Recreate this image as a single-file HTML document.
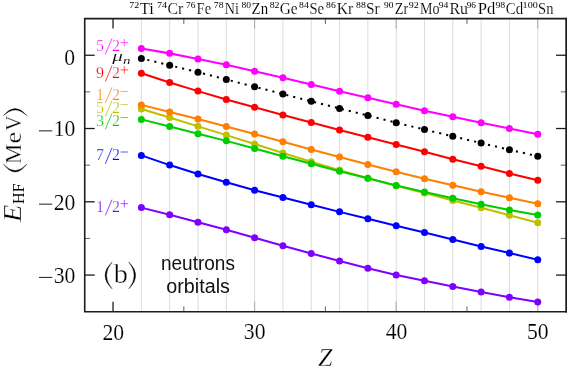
<!DOCTYPE html><html><head><meta charset="utf-8"><style>html,body{margin:0;padding:0;background:#fff}svg{display:block;filter:opacity(1)}</style></head><body>
<svg width="567" height="369" viewBox="0 0 567 369">
<rect width="567" height="369" fill="#fff"/>
<line x1="141.35" y1="18.61" x2="141.35" y2="311.71" stroke="#dcdcdc" stroke-width="1"/>
<line x1="169.66" y1="18.61" x2="169.66" y2="311.71" stroke="#dcdcdc" stroke-width="1"/>
<line x1="197.98" y1="18.61" x2="197.98" y2="311.71" stroke="#dcdcdc" stroke-width="1"/>
<line x1="226.29" y1="18.61" x2="226.29" y2="311.71" stroke="#dcdcdc" stroke-width="1"/>
<line x1="254.61" y1="18.61" x2="254.61" y2="311.71" stroke="#dcdcdc" stroke-width="1"/>
<line x1="282.92" y1="18.61" x2="282.92" y2="311.71" stroke="#dcdcdc" stroke-width="1"/>
<line x1="311.23" y1="18.61" x2="311.23" y2="311.71" stroke="#dcdcdc" stroke-width="1"/>
<line x1="339.55" y1="18.61" x2="339.55" y2="311.71" stroke="#dcdcdc" stroke-width="1"/>
<line x1="367.86" y1="18.61" x2="367.86" y2="311.71" stroke="#dcdcdc" stroke-width="1"/>
<line x1="396.18" y1="18.61" x2="396.18" y2="311.71" stroke="#dcdcdc" stroke-width="1"/>
<line x1="424.49" y1="18.61" x2="424.49" y2="311.71" stroke="#dcdcdc" stroke-width="1"/>
<line x1="452.80" y1="18.61" x2="452.80" y2="311.71" stroke="#dcdcdc" stroke-width="1"/>
<line x1="481.12" y1="18.61" x2="481.12" y2="311.71" stroke="#dcdcdc" stroke-width="1"/>
<line x1="509.43" y1="18.61" x2="509.43" y2="311.71" stroke="#dcdcdc" stroke-width="1"/>
<line x1="537.75" y1="18.61" x2="537.75" y2="311.71" stroke="#dcdcdc" stroke-width="1"/>
<line x1="113.04" y1="311.71" x2="113.04" y2="301.71" stroke="#1c1c1c" stroke-width="1.3"/>
<line x1="113.04" y1="18.61" x2="113.04" y2="28.61" stroke="#1c1c1c" stroke-width="1.3"/>
<line x1="254.61" y1="311.71" x2="254.61" y2="301.71" stroke="#a8a8a8" stroke-width="1.0"/>
<line x1="254.61" y1="18.61" x2="254.61" y2="28.61" stroke="#a8a8a8" stroke-width="1.0"/>
<line x1="396.18" y1="311.71" x2="396.18" y2="301.71" stroke="#a8a8a8" stroke-width="1.0"/>
<line x1="396.18" y1="18.61" x2="396.18" y2="28.61" stroke="#a8a8a8" stroke-width="1.0"/>
<line x1="537.75" y1="311.71" x2="537.75" y2="301.71" stroke="#a8a8a8" stroke-width="1.0"/>
<line x1="537.75" y1="18.61" x2="537.75" y2="28.61" stroke="#a8a8a8" stroke-width="1.0"/>
<line x1="183.82" y1="311.71" x2="183.82" y2="306.41" stroke="#444" stroke-width="0.85"/>
<line x1="183.82" y1="18.61" x2="183.82" y2="23.91" stroke="#444" stroke-width="0.85"/>
<line x1="325.39" y1="311.71" x2="325.39" y2="306.41" stroke="#444" stroke-width="0.85"/>
<line x1="325.39" y1="18.61" x2="325.39" y2="23.91" stroke="#444" stroke-width="0.85"/>
<line x1="466.96" y1="311.71" x2="466.96" y2="306.41" stroke="#444" stroke-width="0.85"/>
<line x1="466.96" y1="18.61" x2="466.96" y2="23.91" stroke="#444" stroke-width="0.85"/>
<line x1="84.72" y1="55.25" x2="94.72" y2="55.25" stroke="#1c1c1c" stroke-width="1.3"/>
<line x1="566.06" y1="55.25" x2="556.06" y2="55.25" stroke="#1c1c1c" stroke-width="1.3"/>
<line x1="84.72" y1="128.52" x2="94.72" y2="128.52" stroke="#1c1c1c" stroke-width="1.3"/>
<line x1="566.06" y1="128.52" x2="556.06" y2="128.52" stroke="#1c1c1c" stroke-width="1.3"/>
<line x1="84.72" y1="201.80" x2="94.72" y2="201.80" stroke="#1c1c1c" stroke-width="1.3"/>
<line x1="566.06" y1="201.80" x2="556.06" y2="201.80" stroke="#1c1c1c" stroke-width="1.3"/>
<line x1="84.72" y1="275.07" x2="94.72" y2="275.07" stroke="#1c1c1c" stroke-width="1.3"/>
<line x1="566.06" y1="275.07" x2="556.06" y2="275.07" stroke="#1c1c1c" stroke-width="1.3"/>
<line x1="84.72" y1="91.89" x2="90.02" y2="91.89" stroke="#444" stroke-width="0.85"/>
<line x1="566.06" y1="91.89" x2="560.76" y2="91.89" stroke="#444" stroke-width="0.85"/>
<line x1="84.72" y1="165.16" x2="90.02" y2="165.16" stroke="#444" stroke-width="0.85"/>
<line x1="566.06" y1="165.16" x2="560.76" y2="165.16" stroke="#444" stroke-width="0.85"/>
<line x1="84.72" y1="238.44" x2="90.02" y2="238.44" stroke="#444" stroke-width="0.85"/>
<line x1="566.06" y1="238.44" x2="560.76" y2="238.44" stroke="#444" stroke-width="0.85"/>
<polyline points="141.35,108.98 169.66,117.58 197.98,126.37 226.29,135.11 254.61,144.06 282.92,152.99 311.23,161.85 339.55,170.12 367.86,178.19 396.18,185.80 424.49,193.02 452.80,200.52 481.12,207.84 509.43,215.22 537.75,222.75" fill="none" stroke="#bfbf00" stroke-width="2.05" stroke-linejoin="round"/>
<circle cx="141.35" cy="108.98" r="3.5" fill="#bfbf00"/>
<circle cx="169.66" cy="117.58" r="3.5" fill="#bfbf00"/>
<circle cx="197.98" cy="126.37" r="3.5" fill="#bfbf00"/>
<circle cx="226.29" cy="135.11" r="3.5" fill="#bfbf00"/>
<circle cx="254.61" cy="144.06" r="3.5" fill="#bfbf00"/>
<circle cx="282.92" cy="152.99" r="3.5" fill="#bfbf00"/>
<circle cx="311.23" cy="161.85" r="3.5" fill="#bfbf00"/>
<circle cx="339.55" cy="170.12" r="3.5" fill="#bfbf00"/>
<circle cx="367.86" cy="178.19" r="3.5" fill="#bfbf00"/>
<circle cx="396.18" cy="185.80" r="3.5" fill="#bfbf00"/>
<circle cx="424.49" cy="193.02" r="3.5" fill="#bfbf00"/>
<circle cx="452.80" cy="200.52" r="3.5" fill="#bfbf00"/>
<circle cx="481.12" cy="207.84" r="3.5" fill="#bfbf00"/>
<circle cx="509.43" cy="215.22" r="3.5" fill="#bfbf00"/>
<circle cx="537.75" cy="222.75" r="3.5" fill="#bfbf00"/>
<polyline points="141.35,207.62 169.66,214.73 197.98,222.15 226.29,229.67 254.61,237.76 282.92,245.74 311.23,253.47 339.55,261.01 367.86,268.31 396.18,274.93 424.49,280.83 452.80,286.56 481.12,292.09 509.43,297.22 537.75,302.01" fill="none" stroke="#8000ff" stroke-width="2.05" stroke-linejoin="round"/>
<circle cx="141.35" cy="207.62" r="3.5" fill="#8000ff"/>
<circle cx="169.66" cy="214.73" r="3.5" fill="#8000ff"/>
<circle cx="197.98" cy="222.15" r="3.5" fill="#8000ff"/>
<circle cx="226.29" cy="229.67" r="3.5" fill="#8000ff"/>
<circle cx="254.61" cy="237.76" r="3.5" fill="#8000ff"/>
<circle cx="282.92" cy="245.74" r="3.5" fill="#8000ff"/>
<circle cx="311.23" cy="253.47" r="3.5" fill="#8000ff"/>
<circle cx="339.55" cy="261.01" r="3.5" fill="#8000ff"/>
<circle cx="367.86" cy="268.31" r="3.5" fill="#8000ff"/>
<circle cx="396.18" cy="274.93" r="3.5" fill="#8000ff"/>
<circle cx="424.49" cy="280.83" r="3.5" fill="#8000ff"/>
<circle cx="452.80" cy="286.56" r="3.5" fill="#8000ff"/>
<circle cx="481.12" cy="292.09" r="3.5" fill="#8000ff"/>
<circle cx="509.43" cy="297.22" r="3.5" fill="#8000ff"/>
<circle cx="537.75" cy="302.01" r="3.5" fill="#8000ff"/>
<polyline points="141.35,155.39 169.66,165.10 197.98,174.01 226.29,182.31 254.61,190.21 282.92,197.44 311.23,204.84 339.55,211.87 367.86,218.80 396.18,225.71 424.49,232.56 452.80,239.55 481.12,246.38 509.43,253.12 537.75,259.80" fill="none" stroke="#0000ff" stroke-width="2.05" stroke-linejoin="round"/>
<circle cx="141.35" cy="155.39" r="3.5" fill="#0000ff"/>
<circle cx="169.66" cy="165.10" r="3.5" fill="#0000ff"/>
<circle cx="197.98" cy="174.01" r="3.5" fill="#0000ff"/>
<circle cx="226.29" cy="182.31" r="3.5" fill="#0000ff"/>
<circle cx="254.61" cy="190.21" r="3.5" fill="#0000ff"/>
<circle cx="282.92" cy="197.44" r="3.5" fill="#0000ff"/>
<circle cx="311.23" cy="204.84" r="3.5" fill="#0000ff"/>
<circle cx="339.55" cy="211.87" r="3.5" fill="#0000ff"/>
<circle cx="367.86" cy="218.80" r="3.5" fill="#0000ff"/>
<circle cx="396.18" cy="225.71" r="3.5" fill="#0000ff"/>
<circle cx="424.49" cy="232.56" r="3.5" fill="#0000ff"/>
<circle cx="452.80" cy="239.55" r="3.5" fill="#0000ff"/>
<circle cx="481.12" cy="246.38" r="3.5" fill="#0000ff"/>
<circle cx="509.43" cy="253.12" r="3.5" fill="#0000ff"/>
<circle cx="537.75" cy="259.80" r="3.5" fill="#0000ff"/>
<polyline points="141.35,119.38 169.66,126.48 197.98,133.69 226.29,140.87 254.61,148.60 282.92,156.15 311.23,163.76 339.55,171.17 367.86,178.32 396.18,185.41 424.49,191.94 452.80,198.31 481.12,204.24 509.43,209.89 537.75,215.09" fill="none" stroke="#00cc00" stroke-width="2.05" stroke-linejoin="round"/>
<circle cx="141.35" cy="119.38" r="3.5" fill="#00cc00"/>
<circle cx="169.66" cy="126.48" r="3.5" fill="#00cc00"/>
<circle cx="197.98" cy="133.69" r="3.5" fill="#00cc00"/>
<circle cx="226.29" cy="140.87" r="3.5" fill="#00cc00"/>
<circle cx="254.61" cy="148.60" r="3.5" fill="#00cc00"/>
<circle cx="282.92" cy="156.15" r="3.5" fill="#00cc00"/>
<circle cx="311.23" cy="163.76" r="3.5" fill="#00cc00"/>
<circle cx="339.55" cy="171.17" r="3.5" fill="#00cc00"/>
<circle cx="367.86" cy="178.32" r="3.5" fill="#00cc00"/>
<circle cx="396.18" cy="185.41" r="3.5" fill="#00cc00"/>
<circle cx="424.49" cy="191.94" r="3.5" fill="#00cc00"/>
<circle cx="452.80" cy="198.31" r="3.5" fill="#00cc00"/>
<circle cx="481.12" cy="204.24" r="3.5" fill="#00cc00"/>
<circle cx="509.43" cy="209.89" r="3.5" fill="#00cc00"/>
<circle cx="537.75" cy="215.09" r="3.5" fill="#00cc00"/>
<polyline points="141.35,104.88 169.66,111.89 197.98,119.10 226.29,126.39 254.61,134.06 282.92,141.81 311.23,149.45 339.55,157.09 367.86,164.50 396.18,171.81 424.49,178.79 452.80,185.28 481.12,191.68 509.43,197.82 537.75,203.66" fill="none" stroke="#ff8000" stroke-width="2.05" stroke-linejoin="round"/>
<circle cx="141.35" cy="104.88" r="3.5" fill="#ff8000"/>
<circle cx="169.66" cy="111.89" r="3.5" fill="#ff8000"/>
<circle cx="197.98" cy="119.10" r="3.5" fill="#ff8000"/>
<circle cx="226.29" cy="126.39" r="3.5" fill="#ff8000"/>
<circle cx="254.61" cy="134.06" r="3.5" fill="#ff8000"/>
<circle cx="282.92" cy="141.81" r="3.5" fill="#ff8000"/>
<circle cx="311.23" cy="149.45" r="3.5" fill="#ff8000"/>
<circle cx="339.55" cy="157.09" r="3.5" fill="#ff8000"/>
<circle cx="367.86" cy="164.50" r="3.5" fill="#ff8000"/>
<circle cx="396.18" cy="171.81" r="3.5" fill="#ff8000"/>
<circle cx="424.49" cy="178.79" r="3.5" fill="#ff8000"/>
<circle cx="452.80" cy="185.28" r="3.5" fill="#ff8000"/>
<circle cx="481.12" cy="191.68" r="3.5" fill="#ff8000"/>
<circle cx="509.43" cy="197.82" r="3.5" fill="#ff8000"/>
<circle cx="537.75" cy="203.66" r="3.5" fill="#ff8000"/>
<polyline points="141.35,73.30 169.66,82.49 197.98,91.12 226.29,99.44 254.61,107.25 282.92,114.90 311.23,122.61 339.55,130.07 367.86,137.24 396.18,144.50 424.49,151.83 452.80,159.15 481.12,166.29 509.43,173.39 537.75,180.32" fill="none" stroke="#ff0000" stroke-width="2.05" stroke-linejoin="round"/>
<circle cx="141.35" cy="73.30" r="3.5" fill="#ff0000"/>
<circle cx="169.66" cy="82.49" r="3.5" fill="#ff0000"/>
<circle cx="197.98" cy="91.12" r="3.5" fill="#ff0000"/>
<circle cx="226.29" cy="99.44" r="3.5" fill="#ff0000"/>
<circle cx="254.61" cy="107.25" r="3.5" fill="#ff0000"/>
<circle cx="282.92" cy="114.90" r="3.5" fill="#ff0000"/>
<circle cx="311.23" cy="122.61" r="3.5" fill="#ff0000"/>
<circle cx="339.55" cy="130.07" r="3.5" fill="#ff0000"/>
<circle cx="367.86" cy="137.24" r="3.5" fill="#ff0000"/>
<circle cx="396.18" cy="144.50" r="3.5" fill="#ff0000"/>
<circle cx="424.49" cy="151.83" r="3.5" fill="#ff0000"/>
<circle cx="452.80" cy="159.15" r="3.5" fill="#ff0000"/>
<circle cx="481.12" cy="166.29" r="3.5" fill="#ff0000"/>
<circle cx="509.43" cy="173.39" r="3.5" fill="#ff0000"/>
<circle cx="537.75" cy="180.32" r="3.5" fill="#ff0000"/>
<polyline points="141.35,58.48 169.66,65.24 197.98,72.30 226.29,79.48 254.61,86.71 282.92,94.05 311.23,101.23 339.55,108.43 367.86,115.60 396.18,122.66 424.49,129.58 452.80,136.28 481.12,143.09 509.43,149.75 537.75,156.23" fill="none" stroke="#000000" stroke-width="2" stroke-dasharray="2.1 5.065" stroke-dashoffset="1.05"/>
<circle cx="141.35" cy="58.48" r="3.5" fill="#000000"/>
<circle cx="169.66" cy="65.24" r="3.5" fill="#000000"/>
<circle cx="197.98" cy="72.30" r="3.5" fill="#000000"/>
<circle cx="226.29" cy="79.48" r="3.5" fill="#000000"/>
<circle cx="254.61" cy="86.71" r="3.5" fill="#000000"/>
<circle cx="282.92" cy="94.05" r="3.5" fill="#000000"/>
<circle cx="311.23" cy="101.23" r="3.5" fill="#000000"/>
<circle cx="339.55" cy="108.43" r="3.5" fill="#000000"/>
<circle cx="367.86" cy="115.60" r="3.5" fill="#000000"/>
<circle cx="396.18" cy="122.66" r="3.5" fill="#000000"/>
<circle cx="424.49" cy="129.58" r="3.5" fill="#000000"/>
<circle cx="452.80" cy="136.28" r="3.5" fill="#000000"/>
<circle cx="481.12" cy="143.09" r="3.5" fill="#000000"/>
<circle cx="509.43" cy="149.75" r="3.5" fill="#000000"/>
<circle cx="537.75" cy="156.23" r="3.5" fill="#000000"/>
<polyline points="141.35,48.43 169.66,53.37 197.98,58.94 226.29,64.80 254.61,71.33 282.92,77.81 311.23,84.44 339.55,91.14 367.86,97.80 396.18,104.35 424.49,110.72 452.80,116.75 481.12,122.75 509.43,128.60 537.75,134.28" fill="none" stroke="#ff00ff" stroke-width="2.05" stroke-linejoin="round"/>
<circle cx="141.35" cy="48.43" r="3.5" fill="#ff00ff"/>
<circle cx="169.66" cy="53.37" r="3.5" fill="#ff00ff"/>
<circle cx="197.98" cy="58.94" r="3.5" fill="#ff00ff"/>
<circle cx="226.29" cy="64.80" r="3.5" fill="#ff00ff"/>
<circle cx="254.61" cy="71.33" r="3.5" fill="#ff00ff"/>
<circle cx="282.92" cy="77.81" r="3.5" fill="#ff00ff"/>
<circle cx="311.23" cy="84.44" r="3.5" fill="#ff00ff"/>
<circle cx="339.55" cy="91.14" r="3.5" fill="#ff00ff"/>
<circle cx="367.86" cy="97.80" r="3.5" fill="#ff00ff"/>
<circle cx="396.18" cy="104.35" r="3.5" fill="#ff00ff"/>
<circle cx="424.49" cy="110.72" r="3.5" fill="#ff00ff"/>
<circle cx="452.80" cy="116.75" r="3.5" fill="#ff00ff"/>
<circle cx="481.12" cy="122.75" r="3.5" fill="#ff00ff"/>
<circle cx="509.43" cy="128.60" r="3.5" fill="#ff00ff"/>
<circle cx="537.75" cy="134.28" r="3.5" fill="#ff00ff"/>
<path d="M566.86,18.61 H84.72 V311.71 H566.86" fill="none" stroke="#1c1c1c" stroke-width="1.6" stroke-linejoin="miter"/>
<rect x="565.3" y="17.81" width="1.7" height="294.70" fill="#1c1c1c"/>
<text transform="translate(102.42,339.54) scale(0.9363,1)" font-size="23.13" font-family='"Liberation Serif"' stroke="#fff" stroke-width="0.155">20</text>
<text transform="translate(243.86,339.30) scale(0.9363,1)" font-size="23.13" font-family='"Liberation Serif"' stroke="#fff" stroke-width="0.155">30</text>
<text transform="translate(385.77,339.30) scale(0.9363,1)" font-size="23.13" font-family='"Liberation Serif"' stroke="#fff" stroke-width="0.155">40</text>
<text transform="translate(527.00,339.30) scale(0.9363,1)" font-size="23.13" font-family='"Liberation Serif"' stroke="#fff" stroke-width="0.155">50</text>
<text transform="translate(64.35,65.25) scale(0.9363,1)" font-size="23.13" font-family='"Liberation Serif"' stroke="#fff" stroke-width="0.155">0</text>
<text transform="translate(53.72,136.47) scale(0.9363,1)" font-size="23.13" font-family='"Liberation Serif"' stroke="#fff" stroke-width="0.155">10</text>
<line x1="39.0" y1="130.87" x2="52.2" y2="130.87" stroke="#111" stroke-width="0.95"/>
<text transform="translate(53.72,209.75) scale(0.9363,1)" font-size="23.13" font-family='"Liberation Serif"' stroke="#fff" stroke-width="0.155">20</text>
<line x1="39.0" y1="204.15" x2="52.2" y2="204.15" stroke="#111" stroke-width="0.95"/>
<text transform="translate(53.72,283.02) scale(0.9363,1)" font-size="23.13" font-family='"Liberation Serif"' stroke="#fff" stroke-width="0.155">30</text>
<line x1="39.0" y1="277.42" x2="52.2" y2="277.42" stroke="#111" stroke-width="0.95"/>
<text transform="translate(318.00,366.00) scale(1.0298,1)" font-size="25.45" font-family='"Liberation Serif"' font-style="italic" stroke="#fff" stroke-width="0.345">Z</text>
<text transform="translate(21.10,222.34) rotate(-90) scale(1.1582,1)" font-size="25.14" font-family='"Liberation Serif"' font-style="italic" stroke="#fff" stroke-width="0.324">E</text>
<text transform="translate(24.40,203.95) rotate(-90) scale(0.9255,1)" font-size="17.37" font-family='"Liberation Serif"'>HF</text>
<text transform="translate(21.30,163.96) rotate(-90) scale(0.9594,1)" font-size="23.77" font-family='"Liberation Serif"' stroke="#fff" stroke-width="0.357">M</text>
<text transform="translate(21.30,130.70) rotate(-90) scale(0.8838,1)" font-size="23.77" font-family='"Liberation Serif"' stroke="#fff" stroke-width="0.372">V</text>
<text transform="translate(21.30,143.42) rotate(-90) scale(1.0985,1)" font-size="23.77" font-family='"Liberation Serif"' stroke="#fff" stroke-width="0.334">e</text>
<path d="M3.40,164.10 Q15.15,179.90 26.90,164.10 Q15.15,177.10 3.40,164.10Z" fill="#000" stroke="#000" stroke-width="0.35" stroke-linejoin="round"/>
<path d="M3.40,115.60 Q15.15,101.40 26.90,115.60 Q15.15,104.20 3.40,115.60Z" fill="#000" stroke="#000" stroke-width="0.35" stroke-linejoin="round"/>
<text transform="translate(129.28,7.60) scale(1.1356,1)" font-size="8.80" font-family='"Liberation Serif"'>72</text>
<text transform="translate(139.74,13.80) scale(1.0117,1)" font-size="16.40" font-family='"Liberation Serif"' stroke="#fff" stroke-width="0.149">Ti</text>
<text transform="translate(156.96,7.60) scale(1.1587,1)" font-size="8.80" font-family='"Liberation Serif"'>74</text>
<text transform="translate(167.40,13.80) scale(0.9679,1)" font-size="16.40" font-family='"Liberation Serif"' stroke="#fff" stroke-width="0.152">Cr</text>
<text transform="translate(186.10,7.60) scale(1.0847,1)" font-size="8.80" font-family='"Liberation Serif"'>76</text>
<text transform="translate(196.57,13.80) scale(0.8933,1)" font-size="16.40" font-family='"Liberation Serif"' stroke="#fff" stroke-width="0.158">Fe</text>
<text transform="translate(213.79,7.60) scale(1.1034,1)" font-size="8.80" font-family='"Liberation Serif"'>78</text>
<text transform="translate(224.78,13.80) scale(0.8593,1)" font-size="16.40" font-family='"Liberation Serif"' stroke="#fff" stroke-width="0.161">Ni</text>
<text transform="translate(241.40,7.60) scale(1.0788,1)" font-size="8.80" font-family='"Liberation Serif"'>80</text>
<text transform="translate(251.60,13.80) scale(0.9112,1)" font-size="16.40" font-family='"Liberation Serif"' stroke="#fff" stroke-width="0.157">Zn</text>
<text transform="translate(269.69,7.60) scale(1.1217,1)" font-size="8.80" font-family='"Liberation Serif"'>82</text>
<text transform="translate(279.72,13.80) scale(0.9370,1)" font-size="16.40" font-family='"Liberation Serif"' stroke="#fff" stroke-width="0.155">Ge</text>
<text transform="translate(299.10,7.60) scale(1.0969,1)" font-size="8.80" font-family='"Liberation Serif"'>84</text>
<text transform="translate(309.39,13.80) scale(0.8925,1)" font-size="16.40" font-family='"Liberation Serif"' stroke="#fff" stroke-width="0.159">Se</text>
<text transform="translate(326.10,7.60) scale(1.0969,1)" font-size="8.80" font-family='"Liberation Serif"'>86</text>
<text transform="translate(336.76,13.80) scale(0.9547,1)" font-size="16.40" font-family='"Liberation Serif"' stroke="#fff" stroke-width="0.153">Kr</text>
<text transform="translate(356.10,7.60) scale(1.1030,1)" font-size="8.80" font-family='"Liberation Serif"'>88</text>
<text transform="translate(366.03,13.80) scale(0.9423,1)" font-size="16.40" font-family='"Liberation Serif"' stroke="#fff" stroke-width="0.154">Sr</text>
<text transform="translate(384.11,7.60) scale(1.0667,1)" font-size="8.80" font-family='"Liberation Serif"'>90</text>
<text transform="translate(394.83,13.80) scale(0.8681,1)" font-size="16.40" font-family='"Liberation Serif"' stroke="#fff" stroke-width="0.161">Zr</text>
<text transform="translate(408.78,7.60) scale(1.1464,1)" font-size="8.80" font-family='"Liberation Serif"'>92</text>
<text transform="translate(419.98,13.80) scale(0.8586,1)" font-size="16.40" font-family='"Liberation Serif"' stroke="#fff" stroke-width="0.161">Mo</text>
<text transform="translate(438.80,7.60) scale(1.0969,1)" font-size="8.80" font-family='"Liberation Serif"'>94</text>
<text transform="translate(449.45,13.80) scale(0.9664,1)" font-size="16.40" font-family='"Liberation Serif"' stroke="#fff" stroke-width="0.153">Ru</text>
<text transform="translate(466.71,7.60) scale(1.0492,1)" font-size="8.80" font-family='"Liberation Serif"'>96</text>
<text transform="translate(477.64,13.80) scale(1.0138,1)" font-size="16.40" font-family='"Liberation Serif"' stroke="#fff" stroke-width="0.149">Pd</text>
<text transform="translate(495.39,7.60) scale(1.1152,1)" font-size="8.80" font-family='"Liberation Serif"'>98</text>
<text transform="translate(505.73,13.80) scale(0.9073,1)" font-size="16.40" font-family='"Liberation Serif"' stroke="#fff" stroke-width="0.157">Cd</text>
<text transform="translate(522.61,7.60) scale(1.1522,1)" font-size="8.80" font-family='"Liberation Serif"'>100</text>
<text transform="translate(538.09,13.80) scale(0.8837,1)" font-size="16.40" font-family='"Liberation Serif"' stroke="#fff" stroke-width="0.159">Sn</text>
<text transform="translate(96.10,50.90) scale(1.0000,1)" font-size="16.00" font-family='"Liberation Serif"' fill="#ff00ff" stroke="#fff" stroke-width="0.250">5</text>
<text transform="translate(112.10,50.90) scale(1.0000,1)" font-size="16.00" font-family='"Liberation Serif"' fill="#ff00ff" stroke="#fff" stroke-width="0.250">2</text>
<line x1="105.3" y1="54.40" x2="112.0" y2="38.50" stroke="#ff00ff" stroke-width="0.75"/>
<line x1="120.6" y1="42.60" x2="128.0" y2="42.60" stroke="#ff00ff" stroke-width="0.65"/>
<line x1="124.3" y1="38.90" x2="124.3" y2="46.30" stroke="#ff00ff" stroke-width="0.65"/>
<text transform="translate(96.10,78.20) scale(1.0000,1)" font-size="16.00" font-family='"Liberation Serif"' fill="#ff0000" stroke="#fff" stroke-width="0.250">9</text>
<text transform="translate(112.10,78.20) scale(1.0000,1)" font-size="16.00" font-family='"Liberation Serif"' fill="#ff0000" stroke="#fff" stroke-width="0.250">2</text>
<line x1="105.3" y1="81.70" x2="112.0" y2="65.80" stroke="#ff0000" stroke-width="0.75"/>
<line x1="120.6" y1="69.90" x2="128.0" y2="69.90" stroke="#ff0000" stroke-width="0.65"/>
<line x1="124.3" y1="66.20" x2="124.3" y2="73.60" stroke="#ff0000" stroke-width="0.65"/>
<text transform="translate(96.10,99.70) scale(1.0000,1)" font-size="16.00" font-family='"Liberation Serif"' fill="#ff8000" stroke="#fff" stroke-width="0.250">1</text>
<text transform="translate(112.10,99.70) scale(1.0000,1)" font-size="16.00" font-family='"Liberation Serif"' fill="#ff8000" stroke="#fff" stroke-width="0.250">2</text>
<line x1="105.3" y1="103.20" x2="112.0" y2="87.30" stroke="#ff8000" stroke-width="0.75"/>
<line x1="120.6" y1="91.40" x2="128.0" y2="91.40" stroke="#ff8000" stroke-width="0.65"/>
<text transform="translate(96.10,112.90) scale(1.0000,1)" font-size="16.00" font-family='"Liberation Serif"' fill="#bfbf00" stroke="#fff" stroke-width="0.250">5</text>
<text transform="translate(112.10,112.90) scale(1.0000,1)" font-size="16.00" font-family='"Liberation Serif"' fill="#bfbf00" stroke="#fff" stroke-width="0.250">2</text>
<line x1="105.3" y1="116.40" x2="112.0" y2="100.50" stroke="#bfbf00" stroke-width="0.75"/>
<line x1="120.6" y1="104.60" x2="128.0" y2="104.60" stroke="#bfbf00" stroke-width="0.65"/>
<text transform="translate(96.10,125.80) scale(1.0000,1)" font-size="16.00" font-family='"Liberation Serif"' fill="#00cc00" stroke="#fff" stroke-width="0.250">3</text>
<text transform="translate(112.10,125.80) scale(1.0000,1)" font-size="16.00" font-family='"Liberation Serif"' fill="#00cc00" stroke="#fff" stroke-width="0.250">2</text>
<line x1="105.3" y1="129.30" x2="112.0" y2="113.40" stroke="#00cc00" stroke-width="0.75"/>
<line x1="120.6" y1="117.50" x2="128.0" y2="117.50" stroke="#00cc00" stroke-width="0.65"/>
<text transform="translate(96.10,160.30) scale(1.0000,1)" font-size="16.00" font-family='"Liberation Serif"' fill="#0000ff" stroke="#fff" stroke-width="0.250">7</text>
<text transform="translate(112.10,160.30) scale(1.0000,1)" font-size="16.00" font-family='"Liberation Serif"' fill="#0000ff" stroke="#fff" stroke-width="0.250">2</text>
<line x1="105.3" y1="163.80" x2="112.0" y2="147.90" stroke="#0000ff" stroke-width="0.75"/>
<line x1="120.6" y1="152.00" x2="128.0" y2="152.00" stroke="#0000ff" stroke-width="0.65"/>
<text transform="translate(96.10,212.00) scale(1.0000,1)" font-size="16.00" font-family='"Liberation Serif"' fill="#8000ff" stroke="#fff" stroke-width="0.250">1</text>
<text transform="translate(112.10,212.00) scale(1.0000,1)" font-size="16.00" font-family='"Liberation Serif"' fill="#8000ff" stroke="#fff" stroke-width="0.250">2</text>
<line x1="105.3" y1="215.50" x2="112.0" y2="199.60" stroke="#8000ff" stroke-width="0.75"/>
<line x1="120.6" y1="203.70" x2="128.0" y2="203.70" stroke="#8000ff" stroke-width="0.65"/>
<line x1="124.3" y1="200.00" x2="124.3" y2="207.40" stroke="#8000ff" stroke-width="0.65"/>
<text transform="translate(112.33,60.76) scale(1.3923,1)" font-size="15.27" font-family='"Liberation Serif"' font-style="italic" stroke="#fff" stroke-width="0.125">μ</text>
<text transform="translate(122.94,63.80) scale(1.3327,1)" font-size="11.15" font-family='"Liberation Serif"' font-style="italic" stroke="#fff" stroke-width="0.086">n</text>
<path d="M112.10,262.00 Q97.90,275.45 112.10,288.90 Q101.10,275.45 112.10,262.00Z" fill="#000" stroke="#000" stroke-width="0.35" stroke-linejoin="round"/>
<text transform="translate(113.70,282.87) scale(1.0405,1)" font-size="27.27" font-family='"Liberation Serif"' stroke="#fff" stroke-width="0.343">b</text>
<path d="M128.80,262.00 Q142.60,275.45 128.80,288.90 Q139.40,275.45 128.80,262.00Z" fill="#000" stroke="#000" stroke-width="0.35" stroke-linejoin="round"/>
<text transform="translate(160.91,270.30) scale(0.9519,1)" font-size="20.00" font-family='"Liberation Sans"' fill="#111">neutrons</text>
<text transform="translate(166.28,293.20) scale(0.9870,1)" font-size="20.00" font-family='"Liberation Sans"' fill="#111">orbitals</text>
</svg></body></html>
